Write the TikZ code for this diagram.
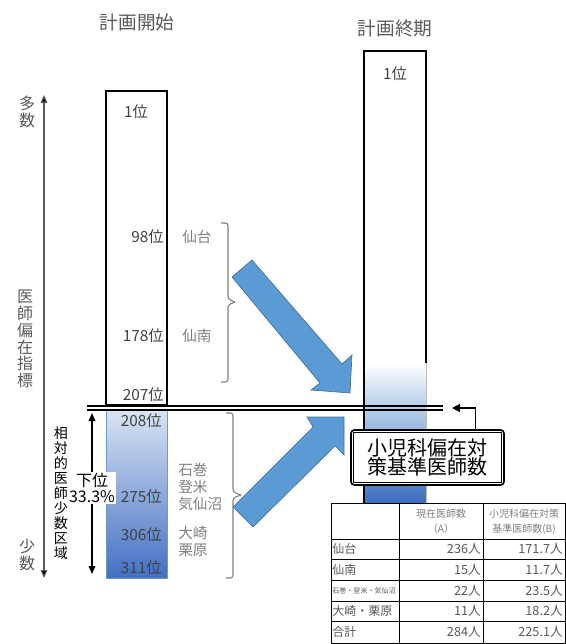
\documentclass[tikz,border=0pt]{standalone}
\usepackage{fontspec}
\setmainfont{Noto Sans CJK JP}
\usetikzlibrary{arrows.meta}
\definecolor{txtdark}{HTML}{404040}
\definecolor{txtgray}{HTML}{595959}
\definecolor{txtlight}{HTML}{7F7F7F}
\definecolor{bracegray}{HTML}{808080}
\definecolor{arrowblue}{HTML}{5B9BD5}
\definecolor{arrowedge}{HTML}{41719C}
\definecolor{gradtop}{HTML}{DAE4F4}
\definecolor{gradmid}{HTML}{9DB6E2}
\definecolor{gradbot}{HTML}{4270C2}
\definecolor{gradedge}{HTML}{6F98CF}
\definecolor{redge}{HTML}{BEBEBE}
\definecolor{rlight}{HTML}{C8DBF0}
\definecolor{rmid}{HTML}{A3C1E6}
\definecolor{rbot}{HTML}{3A6FC0}
\begin{document}
\begin{tikzpicture}[x=0.75pt,y=-0.75pt,
  title/.style={font=\fontsize{14}{16}\selectfont, text=txtgray, inner sep=0},
  rank/.style={font=\fontsize{11.5}{13}\selectfont, text=txtdark, inner sep=0, anchor=east},
  region/.style={font=\fontsize{11}{12.8}\selectfont, text=txtlight, inner sep=0, anchor=west, align=left},
  axislbl/.style={font=\fontsize{12}{12.6}\selectfont, text=txtgray, inner sep=0, align=center},
  bigarrow/.style={fill=arrowblue, draw=arrowedge, line width=0.5},
  bracestyle/.style={draw=bracegray, line width=0.8, rounded corners=2},
  thead/.style={font=\fontsize{7.5}{11.5}\selectfont, text=txtlight, inner sep=0, align=center},
  tname/.style={font=\fontsize{9}{11}\selectfont, text=txtgray, inner sep=0, anchor=west},
  tnum/.style={font=\fontsize{9.5}{11}\selectfont, text=txtgray, inner sep=0, anchor=east},
  tline/.style={draw=black, line width=0.7}
]
\useasboundingbox (0,0) rectangle (566,644);

% titles
\node[title] (t1) at (137,22) {計画開始};
\node[title] (t2) at (395,28) {計画終期};

% left bar
\draw[line width=0.8] (106,91) rectangle (167,405);
\shade[top color=gradtop, middle color=gradmid, bottom color=gradbot] (106,409) rectangle (167,578);
\draw[draw=gradedge, line width=0.6] (106,409) rectangle (167,578);

% right bar
\shade[top color=white, bottom color=rlight] (364,363) rectangle (426,395);
\shade[top color=rlight, middle color=rmid, bottom color=rbot] (364,395) rectangle (426,503);
\draw[draw=redge, line width=0.6] (426,363) -- (426,503) -- (364,503);
\draw[line width=0.8] (364,503) -- (364,51) -- (426,51) -- (426,363);

% double line
\draw[line width=1.6] (87,406) -- (443,406);
\draw[line width=1.6] (87,409.6) -- (443,409.6);

% rank labels
\node[font=\fontsize{11.5}{13}\selectfont, text=txtdark, inner sep=0] (r1) at (136,112) {1位};
\node[font=\fontsize{11.5}{13}\selectfont, text=txtdark, inner sep=0] (r1b) at (395,74) {1位};
\node[rank] (r98) at (164,237) {98位};
\node[rank] (r178) at (164,336) {178位};
\node[rank] (r207) at (164,395) {207位};
\node[rank] (r208) at (162,421) {208位};
\node[rank] (r275) at (162,497) {275位};
\node[rank] (r306) at (162,535) {306位};
\node[rank] (r311) at (162,568) {311位};

% region labels
\node[region] (sendai) at (182,237) {仙台};
\node[region] (sennan) at (182,336) {仙南};
\node[region] (ishi) at (178,487) {石巻\\登米\\気仙沼};
\node[region] (osaki) at (178,541) {大崎\\栗原};

% braces
\draw[bracestyle] (221,223) -- (228,223) -- (228,299) -- (235,302);
\draw[bracestyle] (235,302) -- (228,305) -- (228,382) -- (221,382);
\draw[bracestyle] (226,413) -- (233,413) -- (233,492) -- (241,495);
\draw[bracestyle] (241,495) -- (233,498) -- (233,578) -- (226,578);

% big arrows
\draw[bigarrow] (232,277) -- (252,260) -- (342,364) -- (352,355) -- (350,393) -- (311,390) -- (320,383) -- cycle;
\draw[bigarrow] (233,507) -- (313,427) -- (307,417) -- (344,417) -- (344,455) -- (335,446) -- (253,527) -- cycle;

% left axis
\coordinate (axtop) at (44,95);
\coordinate (axbot) at (44,578);
\draw[draw=txtgray, line width=0.8, {Triangle[length=6,width=5,fill=black]}-{Triangle[length=6,width=5,fill=black]}] (axtop) -- (axbot);
\node[axislbl] (many) at (27,112) {多\\数};
\node[axislbl] (idx) at (25,339) {医\\師\\偏\\在\\指\\標};
\node[axislbl] (few) at (27,555) {少\\数};

% inner axis
\coordinate (intop) at (92,413);
\coordinate (inbot) at (92,574);
\draw[line width=0.8, {Triangle[length=6,width=5]}-{Triangle[length=6,width=5]}] (intop) -- (inbot);
\node[font=\fontsize{10.5}{11.3}\selectfont, inner sep=0, align=center] (rel) at (61,493) {相\\対\\的\\医\\師\\少\\数\\区\\域};
\node[font=\fontsize{12}{12}\selectfont, inner sep=1, fill=white, align=center] (low) at (92,488) {下位\\33.3\%};

% callout
\node[draw, line width=1.2, rounded corners=2.5, fill=white, minimum width=114.75pt, minimum height=41.25pt, inner sep=0,
  font=\fontsize{15}{14.5}\selectfont, align=center] (callout) at (427.5,457.5) {小児科偏在対\\策基準医師数};
\draw[line width=0.6] ([shift={(3,3)}]callout.north west) rectangle ([shift={(-3,-3)}]callout.south east);
\coordinate (calltip) at (452,408);
\draw[line width=0.9, -{Triangle[length=6,width=6]}] ([xshift=-21.75pt]callout.north east) |- (calltip);

% table
\draw[tline, fill=white] (331,503) rectangle (565,643);
\draw[tline] (399,503) -- (399,643);
\draw[tline] (483,503) -- (483,643);
\foreach \yy in {539,559,580,601,621} { \draw[tline] (331,\yy) -- (565,\yy); }
\node[thead] (h1) at (441,521.5) {現在医師数\\（A）};
\node[thead] (h2) at (524,521.5) {小児科偏在対策\\基準医師数(B)};
\node[tname] (n1) at (332,549) {仙台};
\node[tname] (n2) at (332,569.5) {仙南};
\node[tname, font=\fontsize{5.3}{6}\selectfont] (n3) at (332,590.5) {石巻・登米・気仙沼};
\node[tname] (n4) at (332,611) {大崎・栗原};
\node[tname] (n5) at (332,632) {合計};
\node[tnum] (a1) at (481,549) {236人};
\node[tnum] (a2) at (481,569.5) {15人};
\node[tnum] (a3) at (481,590.5) {22人};
\node[tnum] (a4) at (481,611) {11人};
\node[tnum] (a5) at (481,632) {284人};
\node[tnum] (b1) at (563,549) {171.7人};
\node[tnum] (b2) at (563,569.5) {11.7人};
\node[tnum] (b3) at (563,590.5) {23.5人};
\node[tnum] (b4) at (563,611) {18.2人};
\node[tnum] (b5) at (563,632) {225.1人};
\end{tikzpicture}
\end{document}
